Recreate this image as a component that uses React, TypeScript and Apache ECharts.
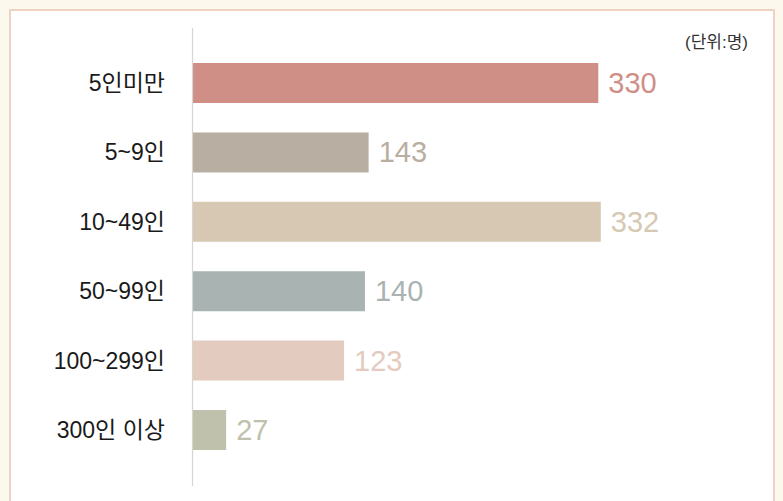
import React, { useEffect, useRef } from "react";
import * as echarts from "echarts";

const categories = ["5인미만", "5~9인", "10~49인", "50~99인", "100~299인", "300인 이상"];
const values = [330, 143, 332, 140, 123, 27];
const barColors = ["#cf8f86", "#b9aea2", "#d6c8b3", "#a8b3b2", "#e3cbc0", "#bfc1ad"];
const unitLabel = "(단위:명)";

const FONT = "'Liberation Sans', 'Noto Sans CJK KR', sans-serif";

export default function App() {
  const ref = useRef<HTMLDivElement>(null);
  useEffect(() => {
    document.body.style.background = "#fdf8ee";
    if (!ref.current) return;
    const chart = echarts.init(ref.current, null, { renderer: "svg" });
    chart.setOption({
      animation: false,
      backgroundColor: "#ffffff",
      grid: { left: 182, right: 27.3, top: 37.3, bottom: 66.3, containLabel: false },
      xAxis: {
        type: "value",
        min: 0,
        max: 450,
        show: false,
      },
      yAxis: {
        type: "category",
        data: categories,
        inverse: true,
        axisLine: { show: false },
        axisTick: { show: false },
        splitLine: { show: false },
        axisLabel: {
          color: "#1a1a1a",
          fontSize: 23,
          fontFamily: FONT,
          margin: 28,
        },
      },
      graphic: [
        {
          type: "line",
          shape: { x1: 181.5, y1: 17, x2: 181.5, y2: 475 },
          style: { stroke: "#d8d5cf", lineWidth: 1.2 },
          z: 10,
        },
        {
          type: "text",
          right: 25,
          top: 23,
          style: {
            text: unitLabel,
            fill: "#333333",
            fontSize: 17,
            fontFamily: FONT,
          },
        },
      ],
      series: [
        {
          type: "bar",
          barWidth: 40,
          data: values.map((v, i) => ({
            value: v,
            itemStyle: { color: barColors[i] },
            label: { color: barColors[i] },
          })),
          label: {
            show: true,
            position: "right",
            distance: 10,
            fontSize: 29,
            fontFamily: FONT,
          },
        },
      ],
    });
    return () => chart.dispose();
  }, []);
  return (
    <div
      style={{
        margin: "1px 0 0 1px",
        width: 766,
        boxSizing: "border-box",
        border: "2px solid #ecd3c4",
        background: "#ffffff",
      }}
    >
      <div ref={ref} style={{ width: 762, height: 520 }} />
    </div>
  );
}
